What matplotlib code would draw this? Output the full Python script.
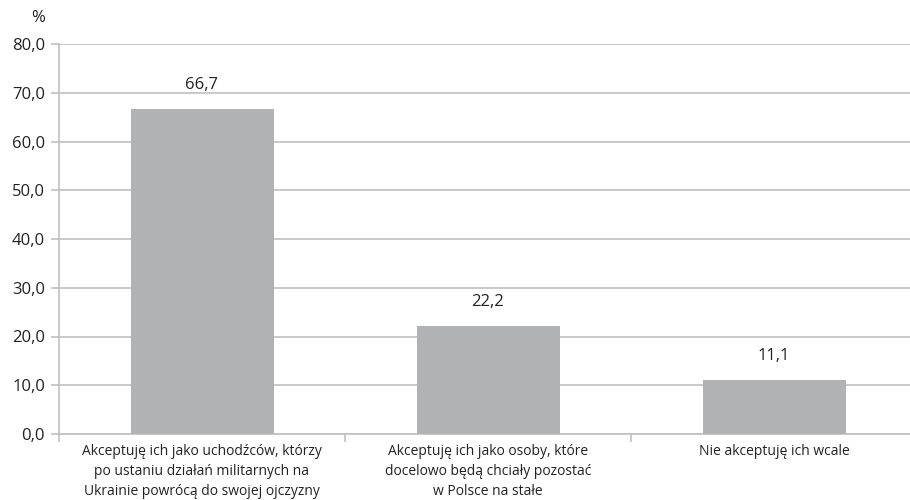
import matplotlib
matplotlib.use("Agg")
import matplotlib.pyplot as plt
from matplotlib.ticker import FixedLocator

categories = [
    "Akceptuję ich jako uchodźców, którzy\npo ustaniu działań militarnych na\nUkrainie powrócą do swojej ojczyzny",
    "Akceptuję ich jako osoby, które\ndocelowo będą chciały pozostać\nw Polsce na stałe",
    "Nie akceptuję ich wcale",
]
values = [66.7, 22.2, 11.1]
yticks = [0, 10, 20, 30, 40, 50, 60, 70, 80]

plt.rcParams['font.family'] = ['Open Sans', 'DejaVu Sans']

W, H = 910, 500
fig = plt.figure(figsize=(W / 100, H / 100), dpi=100)
ax = fig.add_axes([59 / W, (H - 434) / H, 858 / W, 390 / H])

grid_c = "#c0c0c0"
bar_c = "#b1b2b4"

x = list(range(len(values)))
ax.bar(x, values, width=0.5, color=bar_c, zorder=3)
for xi, v in zip(x, values):
    ax.text(xi, v + 3.3, f"{v:.1f}".replace(".", ","), ha="center", va="bottom",
            fontsize=12, color="#222222", zorder=4)

ax.set_xlim(-0.5, len(values) - 0.5)
ax.set_ylim(0, 80)
ax.set_yticks(yticks)
ax.set_yticklabels([f"{t:.1f}".replace(".", ",") for t in yticks], fontsize=12, color="#222222")
ax.yaxis.grid(True, color=grid_c, linewidth=1.2, zorder=0)
ax.set_axisbelow(True)

ax.set_xticks(x)
ax.set_xticklabels(categories, fontsize=10, color="#222222", linespacing=1.45)
ax.xaxis.set_minor_locator(FixedLocator([i - 0.5 for i in range(len(values) + 1)]))
ax.tick_params(axis="x", which="major", length=0, pad=7)
ax.tick_params(axis="x", which="minor", length=6, color=grid_c, width=1.2)
ax.tick_params(axis="y", length=6, color=grid_c, width=1.2, pad=4)

for s in ["top", "right"]:
    ax.spines[s].set_visible(False)
ax.spines["left"].set_color(grid_c)
ax.spines["left"].set_linewidth(1.2)
ax.spines["bottom"].set_color(grid_c)
ax.spines["bottom"].set_linewidth(1.2)

fig.text(38 / W, 1 - 18 / H, "%", fontsize=12, color="#222222", ha="center", va="center")

fig.savefig("out.png", dpi=100)
